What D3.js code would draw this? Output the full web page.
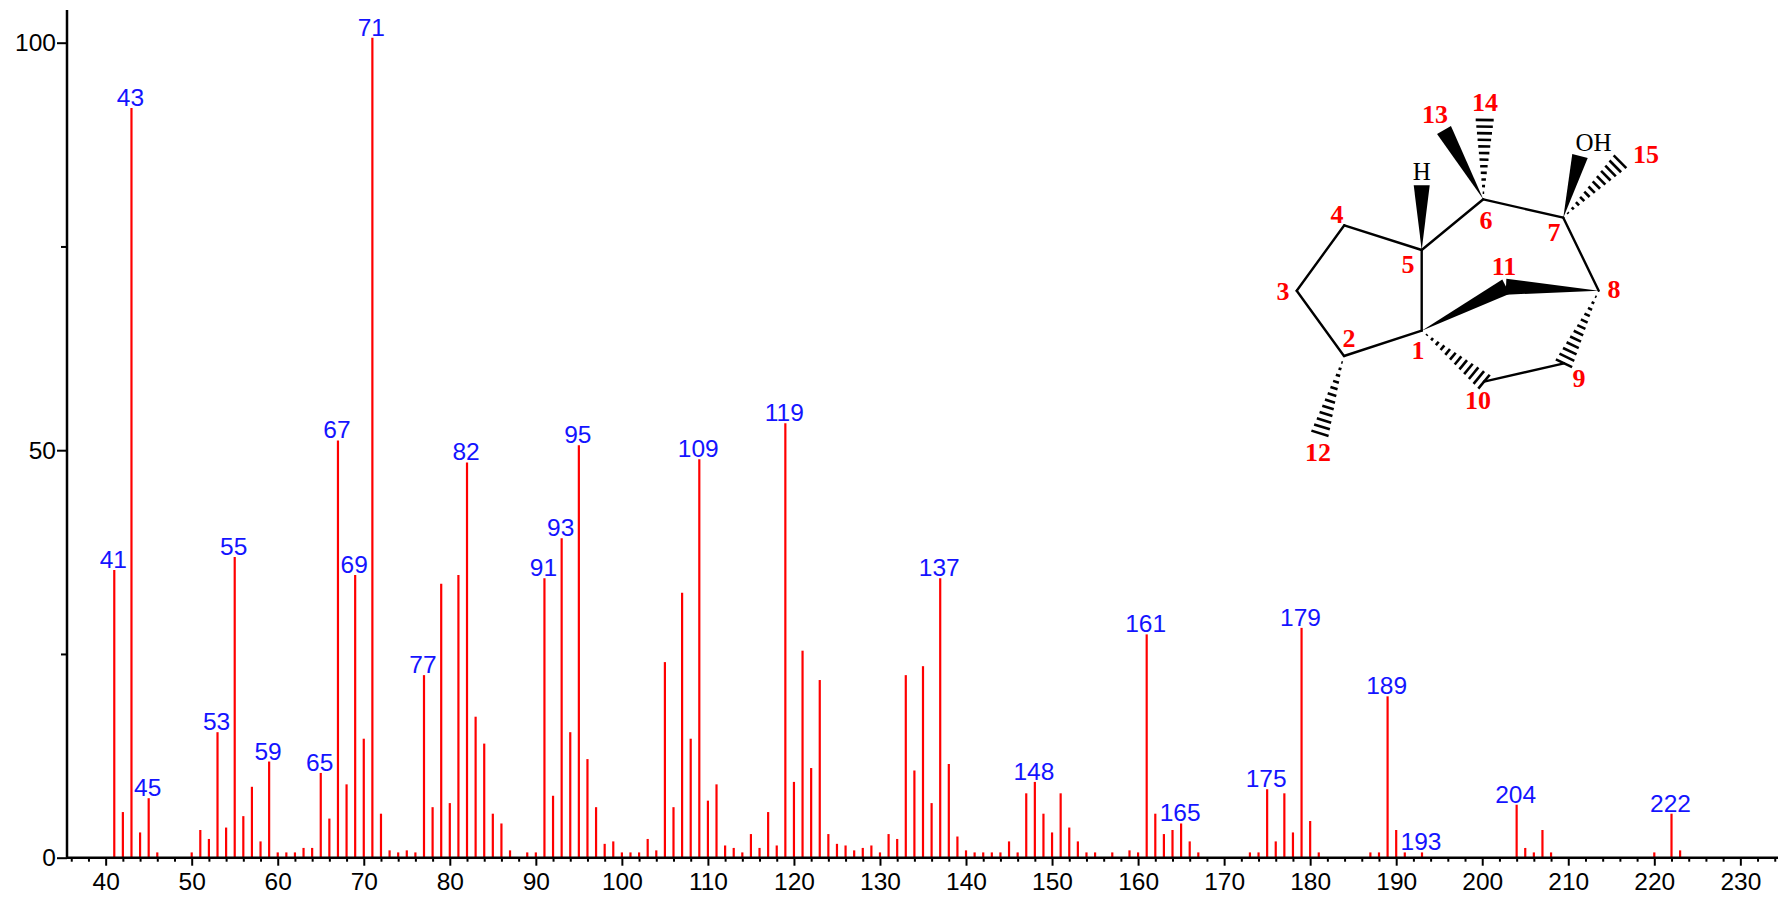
<!DOCTYPE html>
<html><head><meta charset="utf-8">
<script src="https://cdn.jsdelivr.net/npm/d3@7"></script>
<style>html,body{margin:0;padding:0;background:#fff}svg{display:block}</style></head>
<body><svg id="c" width="1778" height="897"></svg>
<script>
const mz = [41,42,43,44,45,46,50,51,52,53,54,55,56,57,58,59,60,61,62,63,64,65,66,67,68,69,70,71,72,73,74,75,76,77,78,79,80,81,82,83,84,85,86,87,89,90,91,92,93,94,95,96,97,98,99,100,101,102,103,104,105,106,107,108,109,110,111,112,113,114,115,116,117,118,119,120,121,122,123,124,125,126,127,128,129,130,131,132,133,134,135,136,137,138,139,140,141,142,143,144,145,146,147,148,149,150,151,152,153,154,155,157,159,160,161,162,163,164,165,166,167,173,174,175,176,177,178,179,180,181,187,188,189,190,191,193,204,205,206,207,208,220,222,223];
const intensity = [35.3,5.6,92,3.1,7.3,.65,.65,3.4,2.3,15.4,3.7,36.9,5.1,8.7,2,11.8,.65,.65,.65,1.2,1.2,10.4,4.8,51.2,9,34.7,14.6,100.6,5.4,.9,.65,.9,.65,22.4,6.2,33.6,6.7,34.7,48.5,17.3,14,5.4,4.2,.9,.65,.65,34.3,7.6,39.2,15.4,50.6,12.1,6.2,1.7,2,.65,.65,.65,2.3,.9,24,6.2,32.5,14.6,48.9,7,9,1.5,1.2,.65,2.9,1.2,5.6,1.5,53.3,9.3,25.4,11,21.8,2.9,1.7,1.5,.9,1.2,1.5,.65,2.9,2.3,22.4,10.7,23.5,6.7,34.3,11.5,2.6,.9,.65,.65,.65,.65,2,.65,7.9,9.3,5.4,3.1,7.9,3.7,2,.65,.65,.65,.9,.65,27.4,5.4,2.9,3.4,4.2,2,.65,.65,.65,8.4,2,7.9,3.1,28.2,4.5,.65,.65,.65,19.8,3.4,.65,.65,6.5,1.2,.65,3.4,.65,.65,5.4,.9];
const peakLabels = [41,43,45,53,55,59,65,67,69,71,77,82,91,93,95,109,119,137,148,161,165,175,179,189,193,204,222];
const xMajor = d3.range(40,231,10);
const xMinor = d3.range(36,236,2).filter(v=>v%10!==0);
const yMajor = [0,50,100];
const yMinor = [25,75];

// molecule drawing, in its own unit space
const atomIds = ["1","2","3","4","5","6","7","8","9","10","11","12","13","14","15","OH","H"];
const atomX = [161.7,84,36.7,84.3,161.7,223.3,303.3,338.7,304,224,246,60,184,224.7,360,320,161.7];
const atomY = [250.7,276,210.7,145.3,170,119.3,137.7,210.7,283.3,301.7,206.7,353.3,50,40,81.7,76,105.3];
const plainBonds = [["1","2"],["2","3"],["3","4"],["4","5"],["5","1"],["5","6"],["6","7"],["7","8"],["9","10"]];
const wedgeBonds = [["5","H"],["6","13"],["7","OH"],["1","11"],["8","11"]];
const hashBonds = [["2","12"],["6","14"],["7","15"],["1","10"],["8","9"]];
const atomLabels = ["1","2","3","4","5","6","7","8","9","10","11","12","13","14","15"];
const atomLabelX = [158,89,23,77,148,226,294,354,319,218,244,58,175,225,386];
const atomLabelY = [270,258,211,134,184,140,152,209,298,320,186,372,34,22,74];

const W=1778,H=897;
const svg=d3.select("#c");
const x=d3.scaleLinear().domain([50,220]).range([191.7,1654.3]);
const y=d3.scaleLinear().domain([0,100]).range([857.7,42.7]);
const FONT='"Liberation Sans",Arial,sans-serif';

// peaks
svg.append("g").selectAll("line").data(mz).join("line")
 .attr("x1",d=>x(d)).attr("x2",d=>x(d))
 .attr("y1",y(0)).attr("y2",(d,i)=>y(intensity[i]))
 .attr("stroke","#ff0000").attr("stroke-width",2.2);

// axes
const gx=svg.append("g").attr("transform",`translate(0,${y(0)})`);
gx.call(d3.axisBottom(x).tickValues(xMajor).tickFormat(d3.format("d")).tickSize(8).tickPadding(7));
const gxm=svg.append("g").attr("transform",`translate(0,${y(0)})`);
gxm.call(d3.axisBottom(x).tickValues(xMinor).tickFormat("").tickSize(4));
gxm.select(".domain").remove();
gx.select(".domain").attr("d",`M67,0H${W}`);
const gy=svg.append("g").attr("transform","translate(67,0)");
gy.call(d3.axisLeft(y).tickValues(yMajor).tickFormat(d3.format("d")).tickSize(10).tickPadding(1));
const gym=svg.append("g").attr("transform","translate(67,0)");
gym.call(d3.axisLeft(y).tickValues(yMinor).tickFormat("").tickSize(6));
gym.select(".domain").remove();
gy.select(".domain").attr("d",`M0,10V${y(0)}`);
svg.selectAll(".domain,.tick line").attr("stroke","#000").attr("stroke-width",2);
svg.selectAll(".domain").attr("stroke-width",2.5);
svg.selectAll(".tick text").attr("font-family",FONT).attr("font-size",24.5).attr("fill","#000");

// peak labels
svg.append("g").selectAll("text").data(peakLabels).join("text")
 .attr("x",d=>x(d)-1).attr("y",d=>y(intensity[mz.indexOf(d)])-2)
 .attr("text-anchor","middle").attr("font-family",FONT).attr("font-size",24.5)
 .attr("fill","#1414ff").text(d=>d);

// molecule
const sx=d3.scaleLinear().domain([0,420]).range([1260,1680]);
const sy=d3.scaleLinear().domain([0,400]).range([80,480]);
const P=id=>{const i=atomIds.indexOf(id);return [sx(atomX[i]),sy(atomY[i])];};
const m=svg.append("g");
m.selectAll("line.b").data(plainBonds).join("line").attr("class","b")
 .attr("x1",d=>P(d[0])[0]).attr("y1",d=>P(d[0])[1]).attr("x2",d=>P(d[1])[0]).attr("y2",d=>P(d[1])[1])
 .attr("stroke","#000").attr("stroke-width",2.4).attr("stroke-linecap","round");
m.selectAll("path.w").data(wedgeBonds).join("path").attr("class","w")
 .attr("d",d=>{const a=P(d[0]),b=P(d[1]);const dx=b[0]-a[0],dy=b[1]-a[1],l=Math.hypot(dx,dy),n=[-dy/l*8,dx/l*8];
   return `M${a}L${b[0]+n[0]},${b[1]+n[1]}L${b[0]-n[0]},${b[1]-n[1]}Z`;}).attr("fill","#000");
hashBonds.forEach(d=>{const a=P(d[0]),b=P(d[1]);const dx=b[0]-a[0],dy=b[1]-a[1],l=Math.hypot(dx,dy);
  const k=Math.round(l/6.8);
  m.append("g").selectAll("line").data(d3.range(1,k+1)).join("line")
   .attr("x1",t=>a[0]+dx*t/k-dy/l*9*t/k).attr("y1",t=>a[1]+dy*t/k+dx/l*9*t/k)
   .attr("x2",t=>a[0]+dx*t/k+dy/l*9*t/k).attr("y2",t=>a[1]+dy*t/k-dx/l*9*t/k)
   .attr("stroke","#000").attr("stroke-width",2.6);
});
m.selectAll("text.n").data(atomLabels).join("text").attr("class","n")
 .attr("x",(d,i)=>sx(atomLabelX[i])).attr("y",(d,i)=>sy(atomLabelY[i])).attr("dy","0.35em")
 .attr("text-anchor","middle").attr("font-family",'"Liberation Serif",serif').attr("font-weight","bold")
 .attr("font-size",26).attr("fill","#ff0000").text(d=>d);
const hetero=[["H",161.7,91],["OH",333.5,62]];
m.selectAll("text.h").data(hetero).join("text").attr("class","h")
 .attr("x",d=>sx(d[1])).attr("y",d=>sy(d[2])).attr("dy","0.35em").attr("text-anchor","middle")
 .attr("font-family",'"Liberation Serif",serif').attr("font-size",25).attr("fill","#000").text(d=>d[0]);
</script></body></html>
